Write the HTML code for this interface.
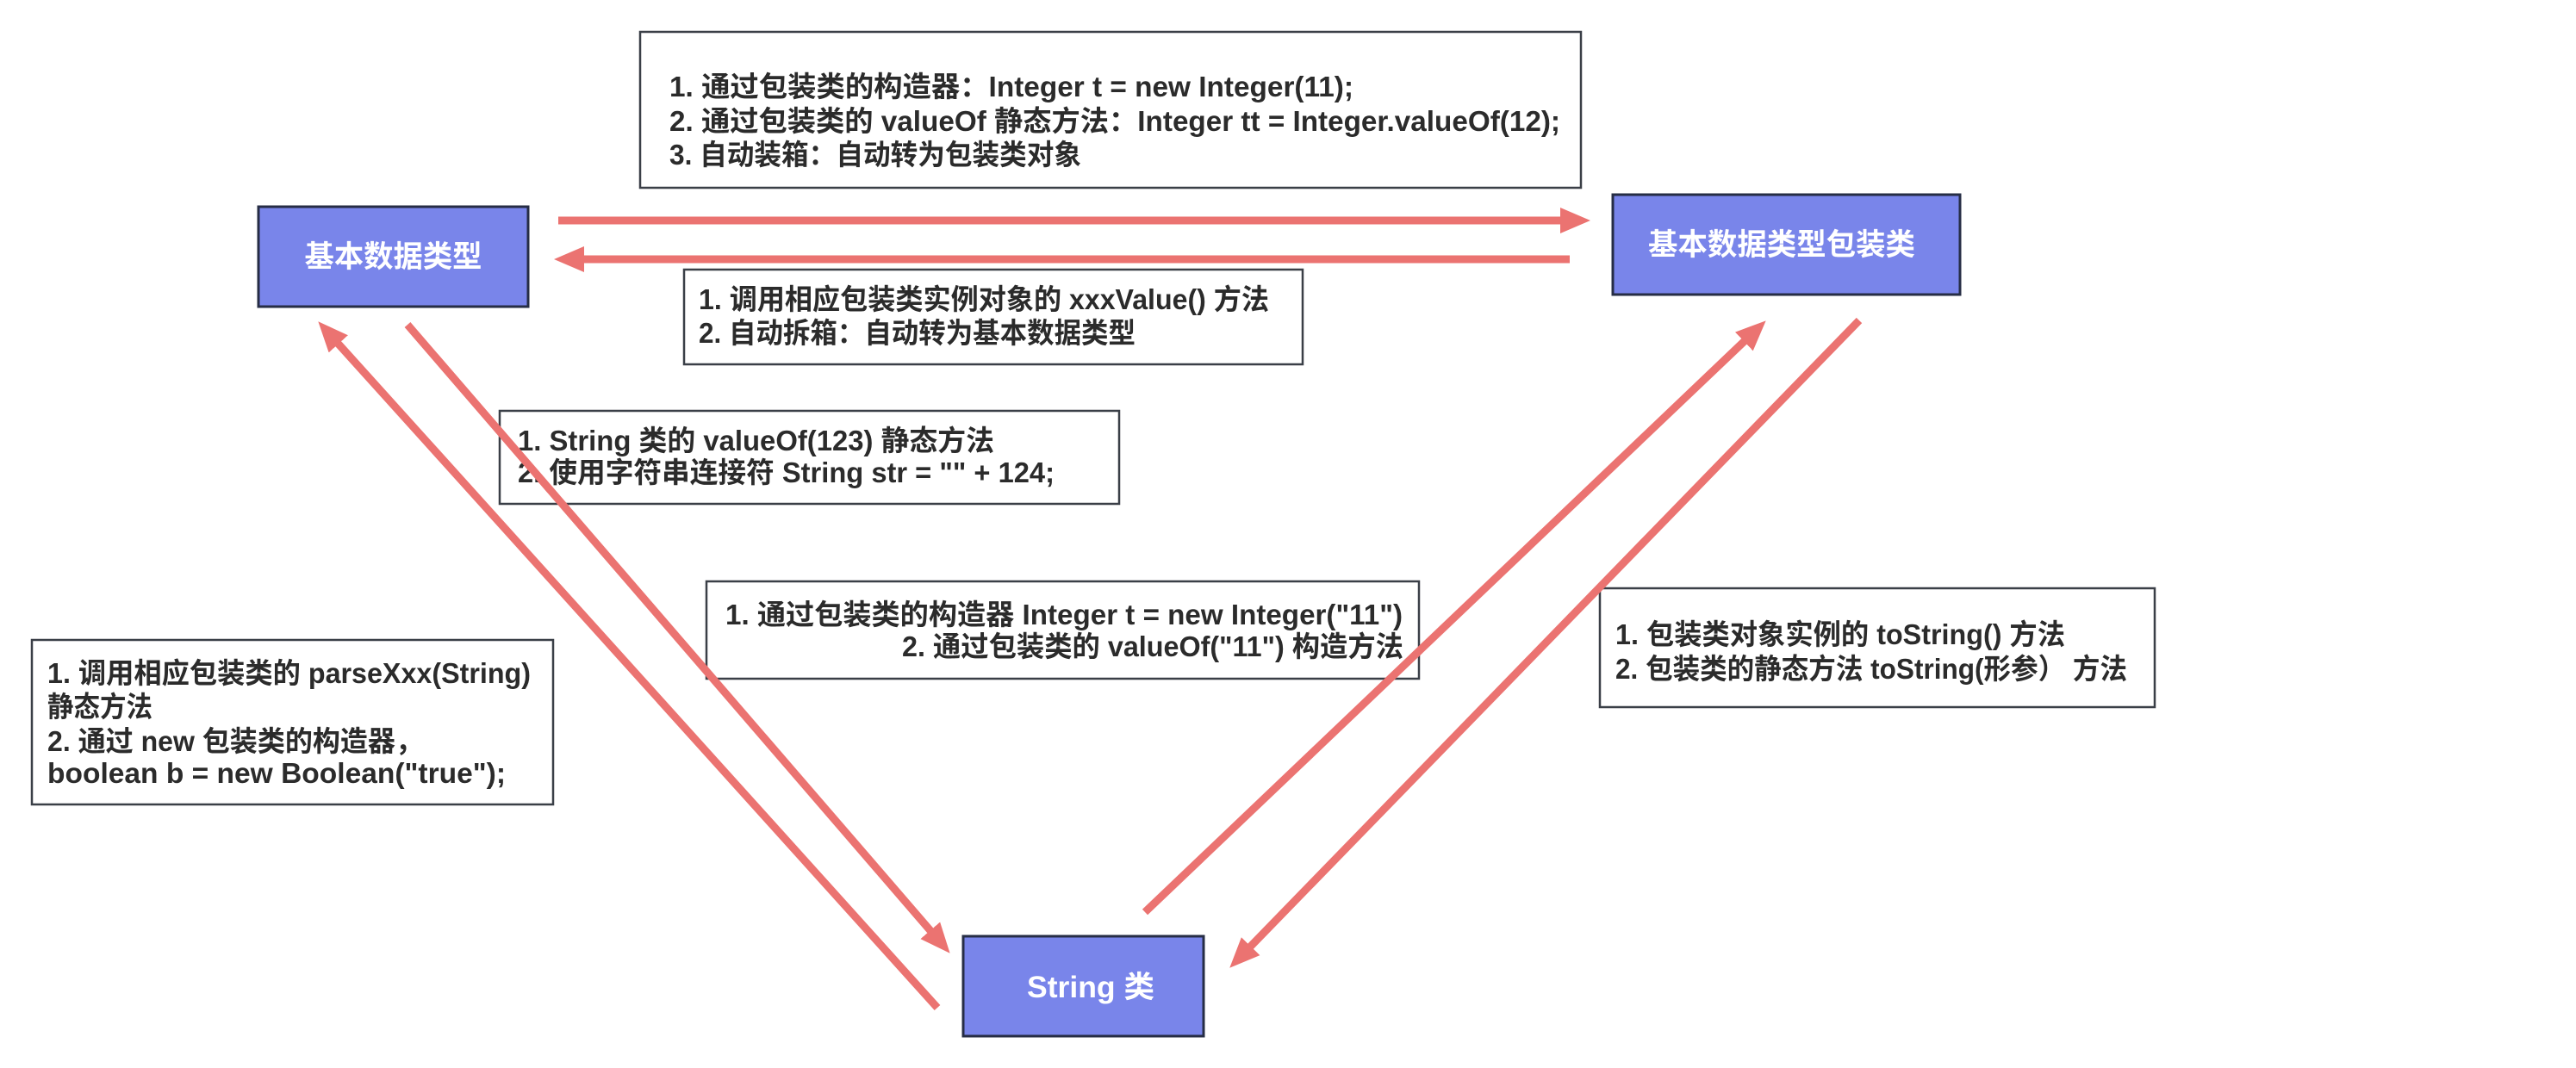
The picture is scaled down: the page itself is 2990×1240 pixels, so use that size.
<!DOCTYPE html>
<html>
<head>
<meta charset="utf-8">
<style>
  html, body { margin: 0; padding: 0; background: #ffffff; }
  body { width: 2990px; height: 1240px; overflow: hidden; }
  svg { display: block; }
  .t { font-family: "Liberation Sans", "Noto Sans CJK SC", sans-serif; font-weight: bold; font-size: 33px; fill: #2b2b2b; }
  .w { font-family: "Liberation Sans", "Noto Sans CJK SC", sans-serif; font-weight: bold; font-size: 35px; fill: #ffffff; }
</style>
</head>
<body>
<svg width="2990" height="1240" viewBox="0 0 2990 1240" xmlns="http://www.w3.org/2000/svg">
  <defs>
    <marker id="ah" markerUnits="userSpaceOnUse" markerWidth="38" markerHeight="32" refX="14" refY="15" orient="auto">
      <path d="M0,0 L35,15 L0,30 Z" fill="#eb7371"/>
    </marker>
  </defs>

  <!-- text boxes -->
  <rect x="743" y="37" width="1092" height="181" fill="#ffffff" stroke="#3a3f47" stroke-width="2.5"/>
  <text class="t" x="777" y="112" textLength="794" lengthAdjust="spacingAndGlyphs">1. 通过包装类的构造器：Integer t = new Integer(11);</text>
  <text class="t" x="777" y="152" textLength="1034" lengthAdjust="spacingAndGlyphs">2. 通过包装类的 valueOf 静态方法：Integer tt = Integer.valueOf(12);</text>
  <text class="t" x="777" y="191" textLength="478" lengthAdjust="spacingAndGlyphs">3. 自动装箱：自动转为包装类对象</text>

  <rect x="794" y="313" width="718" height="110" fill="#ffffff" stroke="#3a3f47" stroke-width="2.5"/>
  <text class="t" x="811" y="359" textLength="662" lengthAdjust="spacingAndGlyphs">1. 调用相应包装类实例对象的 xxxValue() 方法</text>
  <text class="t" x="811" y="398" textLength="507" lengthAdjust="spacingAndGlyphs">2. 自动拆箱：自动转为基本数据类型</text>

  <rect x="580" y="477" width="719" height="108" fill="#ffffff" stroke="#3a3f47" stroke-width="2.5"/>
  <text class="t" x="601" y="523" textLength="553" lengthAdjust="spacingAndGlyphs">1. String 类的 valueOf(123) 静态方法</text>
  <text class="t" x="601" y="560" textLength="623" lengthAdjust="spacingAndGlyphs">2. 使用字符串连接符 String str = "" + 124;</text>

  <rect x="820" y="675" width="827" height="113" fill="#ffffff" stroke="#3a3f47" stroke-width="2.5"/>
  <text class="t" x="842" y="725" textLength="786" lengthAdjust="spacingAndGlyphs">1. 通过包装类的构造器 Integer t = new Integer("11")</text>
  <text class="t" x="1047" y="762" textLength="582" lengthAdjust="spacingAndGlyphs">2. 通过包装类的 valueOf("11") 构造方法</text>

  <rect x="37" y="743" width="605" height="191" fill="#ffffff" stroke="#3a3f47" stroke-width="2.5"/>
  <text class="t" x="55" y="793" textLength="561" lengthAdjust="spacingAndGlyphs">1. 调用相应包装类的 parseXxx(String)</text>
  <text class="t" x="55" y="832" textLength="122" lengthAdjust="spacingAndGlyphs">静态方法</text>
  <text class="t" x="55" y="872" textLength="436" lengthAdjust="spacingAndGlyphs">2. 通过 new 包装类的构造器，</text>
  <text class="t" x="55" y="909" textLength="532" lengthAdjust="spacingAndGlyphs">boolean b = new Boolean("true");</text>

  <rect x="1857" y="683" width="644" height="138" fill="#ffffff" stroke="#3a3f47" stroke-width="2.5"/>
  <text class="t" x="1875" y="748" textLength="522" lengthAdjust="spacingAndGlyphs">1. 包装类对象实例的 toString() 方法</text>
  <text class="t" x="1875" y="788" textLength="594" lengthAdjust="spacingAndGlyphs">2. 包装类的静态方法 toString(形参） 方法</text>

  <!-- blue nodes -->
  <rect x="300" y="240" width="313" height="116" fill="#7985ea" stroke="#262d45" stroke-width="3"/>
  <text class="w" x="456.5" y="310" text-anchor="middle" textLength="206" lengthAdjust="spacingAndGlyphs">基本数据类型</text>

  <rect x="1872" y="226" width="403" height="116" fill="#7985ea" stroke="#262d45" stroke-width="3"/>
  <text class="w" x="2068" y="296" text-anchor="middle" textLength="310" lengthAdjust="spacingAndGlyphs">基本数据类型包装类</text>

  <rect x="1118" y="1087" width="279" height="116" fill="#7985ea" stroke="#262d45" stroke-width="3"/>
  <text class="w" x="1266" y="1158" text-anchor="middle" textLength="148" lengthAdjust="spacingAndGlyphs">String 类</text>

  <!-- arrows -->
  <g stroke="#eb7371" stroke-width="9" fill="none" stroke-linecap="butt">
    <line x1="648" y1="256" x2="1825" y2="256" marker-end="url(#ah)"/>
    <line x1="1822" y1="301" x2="664" y2="301" marker-end="url(#ah)"/>
    <line x1="1088" y1="1170" x2="383.4" y2="388.9" marker-end="url(#ah)"/>
    <line x1="473" y1="377" x2="1088.9" y2="1090.9" marker-end="url(#ah)"/>
    <line x1="1329" y1="1059" x2="2034.5" y2="386.8" marker-end="url(#ah)"/>
    <line x1="2158" y1="372" x2="1441.9" y2="1108.7" marker-end="url(#ah)"/>
  </g>
</svg>
</body>
</html>
